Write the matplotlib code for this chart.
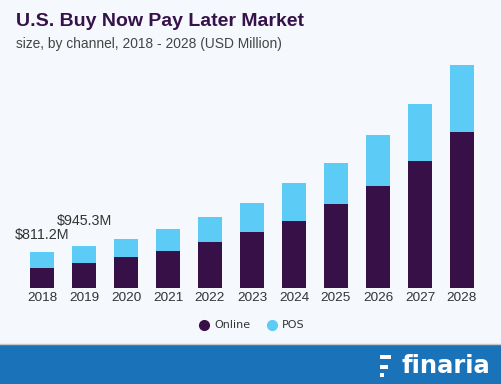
import matplotlib.pyplot as plt
from matplotlib.patches import Rectangle
from matplotlib.lines import Line2D

years = ["2018", "2019", "2020", "2021", "2022", "2023", "2024", "2025", "2026", "2027", "2028"]
online = [457, 558, 694, 843, 1040, 1266, 1514, 1892, 2305, 2877, 3532]
pos = [354, 387, 413, 484, 571, 662, 852, 926, 1146, 1281, 1501]
labels = {0: "$811.2M", 1: "$945.3M"}

ONLINE_C = "#371047"
POS_C = "#5ccbf5"
BG = "#f5f9fd"

W, H = 502, 384
fig = plt.figure(figsize=(W / 100, H / 100), dpi=100, facecolor=BG)

ax = fig.add_axes([21 / W, 96 / H, 462 / W, 228 / H])
ax.set_facecolor(BG)
x = range(len(years))
ax.bar(x, online, width=0.57, color=ONLINE_C)
ax.bar(x, pos, width=0.57, bottom=online, color=POS_C)
# label gap above bar top in points (staggered so they don't collide)
label_gap = {0: 7, 1: 13}
for i, txt in labels.items():
    ax.annotate(txt, (i, online[i] + pos[i]), xytext=(0, label_gap[i]),
                textcoords="offset points", ha="center", va="bottom",
                fontsize=10.3, color="#333333", family="Liberation Sans")
ax.set_xlim(-0.5, len(years) - 0.5)
ax.set_ylim(0, 5153)
ax.set_xticks(list(x))
ax.set_xticklabels(years, fontsize=9.7, color="#333333", family="Liberation Sans")
ax.tick_params(axis="x", length=0, pad=3)
ax.set_yticks([])
for s in ax.spines.values():
    s.set_visible(False)

# title block
fig.text(16 / W, 1 - 22 / H, "U.S. Buy Now Pay Later Market", fontsize=14,
         fontweight="bold", color="#36124a", va="center", family="Liberation Sans")
fig.text(16 / W, 1 - 44 / H, "size, by channel, 2018 - 2028 (USD Million)", fontsize=9.9,
         color="#444444", va="center", family="Liberation Sans")

# legend
fig.add_artist(Line2D([204 / W], [1 - 325 / H], marker="o", markersize=7,
                      color=ONLINE_C, linestyle="none"))
fig.text(214 / W, 1 - 325 / H, "Online", fontsize=8, color="#333333", va="center")
fig.add_artist(Line2D([272 / W], [1 - 325 / H], marker="o", markersize=7,
                      color=POS_C, linestyle="none"))
fig.text(282 / W, 1 - 325 / H, "POS", fontsize=8, color="#333333", va="center")

# footer band with logo
fig.add_artist(Rectangle((0, 0), 1, 40 / H, transform=fig.transFigure,
                         facecolor="#1a73b8", edgecolor="none"))
fig.add_artist(Line2D([0, 1], [40 / H, 40 / H], color="#c8c8c8", linewidth=1))
for bx, by, bw, bh in [(380, 355, 11, 3.5), (380, 365, 8, 3.5), (380, 373, 4, 3.5)]:
    fig.add_artist(Rectangle((bx / W, 1 - (by + bh) / H), bw / W, bh / H,
                             transform=fig.transFigure, facecolor="white", edgecolor="none"))
fig.text(402 / W, 1 - 366 / H, "finaria", fontsize=17.5, fontweight="bold",
         color="white", va="center", family="DejaVu Sans")

fig.savefig("out.png", dpi=100, facecolor=BG)
